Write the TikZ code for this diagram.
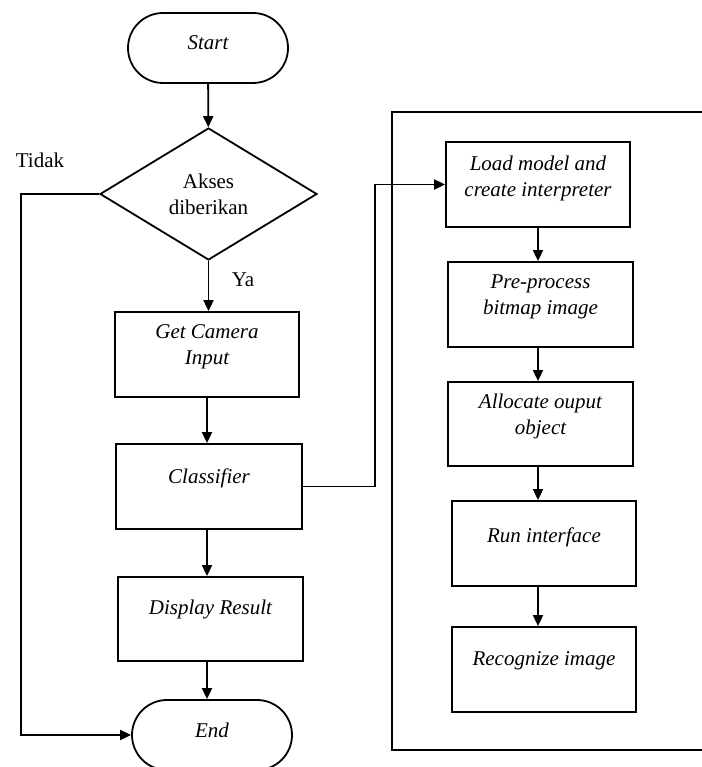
\documentclass[tikz,border=0pt]{standalone}
\usepackage{fontspec}
\setmainfont{Liberation Serif}
\usetikzlibrary{arrows.meta,shapes.geometric,shapes.misc}
\newcommand\rz[2][8pt]{\raisebox{#1}[\height][\depth]{#2}}
\begin{document}
\begin{tikzpicture}[x=1pt,y=-1pt,
  line width=1.8pt,
  every node/.style={font=\fontsize{21}{26}\selectfont},
  arr/.style={-{Triangle[length=11pt,width=10pt]}},
  term/.style={draw,rounded rectangle,minimum width=160pt,minimum height=70pt,inner sep=0pt,font=\fontsize{21}{26}\selectfont\itshape},
  proc/.style={draw,rectangle,minimum width=185pt,minimum height=85pt,inner sep=0pt,align=center,font=\fontsize{21}{26}\selectfont\itshape},
  dec/.style={draw,diamond,minimum width=217pt,minimum height=132pt,inner sep=0pt,align=center}
]
\useasboundingbox (0,0) rectangle (701,767);
% left column
\node[term] (start) at (208,48) {\rz[5pt]{Start}};
\node[dec] (dec) at (208.5,194) {Akses\\diberikan};
\node[proc,minimum width=184pt] (cam) at (207,354.5) {\rz{Get Camera}\\\rz{Input}};
\node[proc,minimum width=186pt] (cls) at (209,486.5) {\rz{Classifier}};
\node[proc,minimum height=84pt] (disp) at (210.5,619) {\rz[10pt]{Display Result}};
\node[term] (end) at (212,735) {\rz[5pt]{End}};
\node (tidak) at (40,160) {Tidak};
\node (ya) at (243,280) {Ya};
% right panel
\draw (702,112) -- (392,112) -- (392,750) -- (702,750);
\node[proc,minimum width=184pt] (load) at (538,184.5) {\rz[6pt]{Load model and}\\\rz[6pt]{create interpreter}};
\node[proc] (pre) at (540.5,304.5) {\rz{Pre-process}\\\rz{bitmap image}};
\node[proc,minimum height=84pt] (alloc) at (540.5,424) {\rz{Allocate ouput}\\\rz{object}};
\node[proc,minimum width=184pt] (run) at (544,543.5) {\rz[6pt]{Run interface}};
\node[proc,minimum width=184pt] (rec) at (544,669.5) {\rz[9pt]{Recognize image}};
% connectors left
\draw[arr] (start) -- (dec);
\draw[arr] (dec.south) -- (dec.south |- cam.north);
\draw[arr] (cam.south) -- (cam.south |- cls.north);
\draw[arr] (cam.south |- cls.south) -- (cam.south |- disp.north);
\draw[arr] (cam.south |- disp.south) -- (cam.south |- end.north);
\draw[arr] (dec.west) -- (21,194) |- (end.west);
\draw[arr] (cls.east) -- (375,486.5) |- (load.west);
% connectors right
\draw[arr] (load.south) -- (load.south |- pre.north);
\draw[arr] (load.south |- pre.south) -- (load.south |- alloc.north);
\draw[arr] (load.south |- alloc.south) -- (load.south |- run.north);
\draw[arr] (load.south |- run.south) -- (load.south |- rec.north);
\end{tikzpicture}
\end{document}
